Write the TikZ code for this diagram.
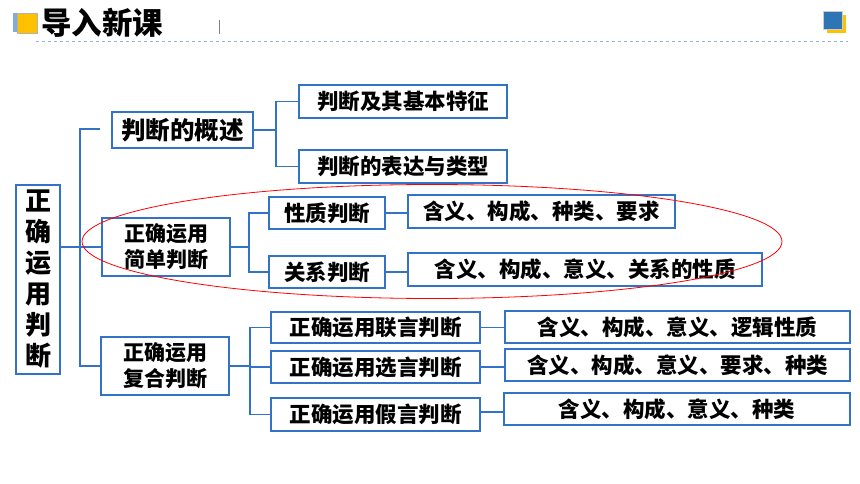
\documentclass[tikz,border=0pt]{standalone}
\usepackage{fontspec}
\setmainfont{Noto Sans CJK SC}
\definecolor{bx}{RGB}{50,115,200}
\definecolor{hdblue}{RGB}{46,117,182}
\definecolor{hdyel}{RGB}{255,192,0}
\definecolor{dashblue}{RGB}{143,180,227}
\tikzset{
  box/.style={draw=bx,line width=1.6pt,inner sep=0pt,align=center,font=\fontsize{21.5}{24}\selectfont\bfseries,text=black},
  con/.style={draw=bx,line width=1.6pt}
}
\begin{document}
\begin{tikzpicture}[x=1pt,y=-1pt]
\useasboundingbox (0,0) rectangle (860,484);
% header
\fill[hdblue!60] (13,13) rectangle (17,32);
\fill[hdyel,draw=gray!60,line width=0.5pt] (17,13) rectangle (37,33);
\node[anchor=west,inner sep=0pt,font=\fontsize{30.5}{32}\selectfont\bfseries] (title) at (41,23) {导入新课};
\draw[gray,line width=1pt] (219,20) -- (219,34);
\draw[dashblue,line width=1pt,dash pattern=on 3pt off 3pt] (36,42) -- (848,42);
\fill[hdyel] (827,15) rectangle (846,33);
\fill[hdblue,draw=gray!40,line width=0.5pt] (823,11) rectangle (842,29);
% nodes
\node[box,minimum width=44,minimum height=189,font=\fontsize{26}{31}\selectfont\bfseries] (root) at (38,279.5) {正\\确\\运\\用\\判\\断};
\node[box,minimum width=141,minimum height=36,font=\fontsize{24.5}{26}\selectfont\bfseries] (gs) at (182.5,130) {判断的概述};
\node[box,minimum width=208,minimum height=33] (tz) at (403,101.5) {判断及其基本特征};
\node[box,minimum width=208,minimum height=33] (bd) at (403,166.5) {判断的表达与类型};
\node[box,minimum width=128,minimum height=58,font=\fontsize{21}{26}\selectfont\bfseries] (jd) at (166,247) {正确运用\\简单判断};
\node[box,minimum width=116,minimum height=32] (xz) at (327,213) {性质判断};
\node[box,minimum width=116,minimum height=32] (gx) at (327,272) {关系判断};
\node[box,minimum width=267,minimum height=33] (xzc) at (541.5,211.5) {含义、构成、种类、要求};
\node[box,minimum width=354,minimum height=33] (gxc) at (585,269.5) {含义、构成、意义、关系的性质};
\node[box,minimum width=128,minimum height=58,font=\fontsize{21}{26}\selectfont\bfseries] (fh) at (165,366) {正确运用\\复合判断};
\node[box,minimum width=209,minimum height=31] (ly) at (375.5,327.5) {正确运用联言判断};
\node[box,minimum width=209,minimum height=32] (xy) at (375.5,367) {正确运用选言判断};
\node[box,minimum width=209,minimum height=33] (jy) at (375.5,414.5) {正确运用假言判断};
\node[box,minimum width=345,minimum height=32] (lyc) at (677.5,327) {含义、构成、意义、逻辑性质};
\node[box,minimum width=345,minimum height=32] (xyc) at (677.5,365) {含义、构成、意义、要求、种类};
\node[box,minimum width=346,minimum height=32] (jyc) at (677,409) {含义、构成、意义、种类};
% connectors
\coordinate (g1) at (100,129);
\coordinate (t1) at (80,0);
\draw[con] (g1) -| (t1 |- fh.west) -- (fh.west);
\draw[con] (root.east |- jd.west) -- (jd.west);
\coordinate (t2) at (276,0);
\draw[con] (gs.east) -- (t2 |- gs.east);
\draw[con] (tz.west) -| (t2 |- bd.west) -- (bd.west);
\coordinate (t3) at (249,0);
\draw[con] (jd.east) -- (t3 |- jd.east);
\draw[con] (xz.west) -| (t3 |- gx.west) -- (gx.west);
\draw[con] (xz.east) -- (xzc.west |- xz.east);
\draw[con] (gx.east) -- (gxc.west |- gx.east);
\coordinate (t4) at (250,0);
\draw[con] (fh.east) -- (t4 |- fh.east);
\draw[con] (ly.west) -| (t4 |- jy.west) -- (jy.west);
\draw[con] (t4 |- xy.west) -- (xy.west);
\draw[con] (ly.east) -- (lyc.west |- ly.east);
\draw[con] (xy.east) -- (xyc.west |- xy.east);
\coordinate (je) at ([yshift=2.5pt]jy.east);
\draw[con] (je) -- (jyc.west |- je);
% red ellipse
\draw[red,line width=0.8pt] (432,241.5) ellipse [x radius=350,y radius=57];
\end{tikzpicture}
\end{document}
